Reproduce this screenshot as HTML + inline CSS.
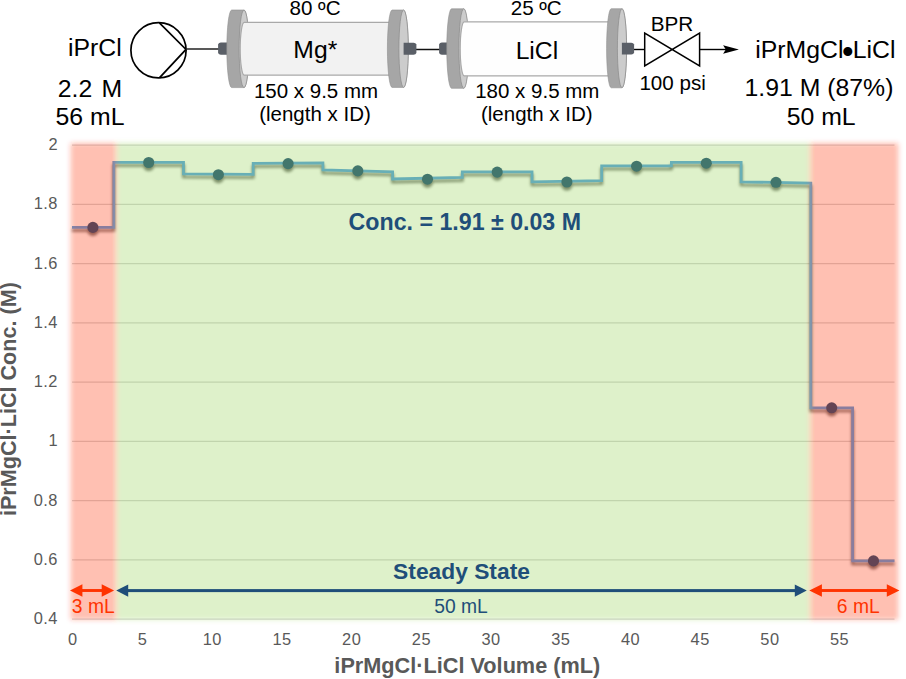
<!DOCTYPE html>
<html><head><meta charset="utf-8"><title>iPrMgCl·LiCl flow synthesis</title>
<style>
html,body{margin:0;padding:0;background:#fff;}
svg{display:block;font-family:"Liberation Sans",Arial,sans-serif;}
</style></head><body>
<svg width="906" height="679" viewBox="0 0 906 679">
<defs>
<filter id="soft" x="-20%" y="-5%" width="140%" height="110%"><feGaussianBlur stdDeviation="2.8"/></filter>
<filter id="sh" x="-5%" y="-5%" width="110%" height="110%"><feGaussianBlur stdDeviation="1.8"/></filter>
</defs>
<rect width="906" height="679" fill="#fff"/>

<!-- ===== chart ===== -->
<g stroke="#d6d6d6" stroke-width="1.25"><line x1="72" x2="894.5" y1="145.00" y2="145.00"/><line x1="72" x2="894.5" y1="204.25" y2="204.25"/><line x1="72" x2="894.5" y1="263.50" y2="263.50"/><line x1="72" x2="894.5" y1="322.75" y2="322.75"/><line x1="72" x2="894.5" y1="382.00" y2="382.00"/><line x1="72" x2="894.5" y1="441.25" y2="441.25"/><line x1="72" x2="894.5" y1="500.50" y2="500.50"/><line x1="72" x2="894.5" y1="559.75" y2="559.75"/><line x1="72" x2="894.5" y1="619.00" y2="619.00"/></g>
<g font-size="16.4" letter-spacing="0.5" fill="#595959"><text x="58" y="150.0" text-anchor="end">2</text><text x="58" y="209.2" text-anchor="end">1.8</text><text x="58" y="268.5" text-anchor="end">1.6</text><text x="58" y="327.8" text-anchor="end">1.4</text><text x="58" y="387.0" text-anchor="end">1.2</text><text x="58" y="446.2" text-anchor="end">1</text><text x="58" y="505.5" text-anchor="end">0.8</text><text x="58" y="564.8" text-anchor="end">0.6</text><text x="58" y="624.0" text-anchor="end">0.4</text><text x="72.9" y="645" text-anchor="middle">0</text><text x="142.6" y="645" text-anchor="middle">5</text><text x="212.3" y="645" text-anchor="middle">10</text><text x="282.0" y="645" text-anchor="middle">15</text><text x="351.7" y="645" text-anchor="middle">20</text><text x="421.4" y="645" text-anchor="middle">25</text><text x="491.1" y="645" text-anchor="middle">30</text><text x="560.8" y="645" text-anchor="middle">35</text><text x="630.5" y="645" text-anchor="middle">40</text><text x="700.2" y="645" text-anchor="middle">45</text><text x="769.9" y="645" text-anchor="middle">50</text><text x="839.6" y="645" text-anchor="middle">55</text></g>
<!-- shadow -->
<g opacity="0.55" filter="url(#sh)" transform="translate(0,3)">
<path d="M72.0 227.4 L113.8 227.4 L113.8 162.4 L183.5 162.4 L183.5 173.8 L253.2 174.4 L253.2 163.3 L322.9 162.9 L322.9 170.0 L392.6 171.8 L392.6 179.0 L462.3 177.3 L462.3 171.9 L532.0 171.8 L532.0 181.8 L601.7 180.7 L601.7 165.9 L671.4 165.9 L671.4 162.4 L741.1 162.4 L741.1 181.8 L810.8 183.2 L810.8 407.8 L852.6 407.8 L852.6 560.9 L894.5 560.9" fill="none" stroke="#000" stroke-width="2.8" stroke-linejoin="miter"/>
<g fill="#000"><circle cx="92.9" cy="227.4" r="5.55"/><circle cx="148.7" cy="162.5" r="5.55"/><circle cx="218.4" cy="174.7" r="5.55"/><circle cx="288.1" cy="163.6" r="5.55"/><circle cx="357.8" cy="170.9" r="5.55"/><circle cx="427.5" cy="179.2" r="5.55"/><circle cx="497.2" cy="172.1" r="5.55"/><circle cx="566.9" cy="182.0" r="5.55"/><circle cx="636.6" cy="166.2" r="5.55"/><circle cx="706.3" cy="163.2" r="5.55"/><circle cx="776.0" cy="182.3" r="5.55"/><circle cx="831.7" cy="407.8" r="5.55"/><circle cx="873.5" cy="560.9" r="5.55"/></g>
</g>
<path d="M72.0 227.4 L113.8 227.4 L113.8 162.4 L183.5 162.4 L183.5 173.8 L253.2 174.4 L253.2 163.3 L322.9 162.9 L322.9 170.0 L392.6 171.8 L392.6 179.0 L462.3 177.3 L462.3 171.9 L532.0 171.8 L532.0 181.8 L601.7 180.7 L601.7 165.9 L671.4 165.9 L671.4 162.4 L741.1 162.4 L741.1 181.8 L810.8 183.2 L810.8 407.8 L852.6 407.8 L852.6 560.9 L894.5 560.9" fill="none" stroke="#56a0e2" stroke-width="2.8" stroke-linejoin="miter"/>
<g fill="#1f4e79"><circle cx="92.9" cy="227.4" r="5.55"/><circle cx="148.7" cy="162.5" r="5.55"/><circle cx="218.4" cy="174.7" r="5.55"/><circle cx="288.1" cy="163.6" r="5.55"/><circle cx="357.8" cy="170.9" r="5.55"/><circle cx="427.5" cy="179.2" r="5.55"/><circle cx="497.2" cy="172.1" r="5.55"/><circle cx="566.9" cy="182.0" r="5.55"/><circle cx="636.6" cy="166.2" r="5.55"/><circle cx="706.3" cy="163.2" r="5.55"/><circle cx="776.0" cy="182.3" r="5.55"/><circle cx="831.7" cy="407.8" r="5.55"/><circle cx="873.5" cy="560.9" r="5.55"/></g>
<!-- zones -->
<g filter="url(#soft)">
<rect x="70.6" y="143" width="46.2" height="476.8" fill="#ff3210" fill-opacity="0.3"/>
<rect x="116.8" y="143" width="692.9" height="476.8" fill="#92d050" fill-opacity="0.3"/>
<rect x="809.7" y="143" width="88.6" height="476.8" fill="#ff3210" fill-opacity="0.3"/>
</g>
<!-- arrows -->
<g fill="#ff3300" stroke="none">
<rect x="78" y="589.05" width="28" height="2.9"/>
<path d="M70 590.5 l12.4 -6.2 v12.4 z M114.1 590.5 l-12.4 -6.2 v12.4 z"/>
<rect x="818" y="589.05" width="72" height="2.9"/>
<path d="M809.3 590.5 l12.6 -6.2 v12.4 z M899.4 590.5 l-12.6 -6.2 v12.4 z"/>
</g>
<g fill="#1f4e79">
<rect x="124" y="589.1" width="676" height="3"/>
<path d="M116.2 590.6 l12 -6.2 v12.4 z M806.8 590.6 l-12 -6.2 v12.4 z"/>
</g>
<g font-size="19.3" text-anchor="middle">
<text x="93.3" y="613.3" fill="#ff3300">3 mL</text>
<text x="858.3" y="613.3" fill="#ff3300">6 mL</text>
<text x="461" y="613.3" fill="#1f4e79">50 mL</text>
</g>
<text x="461.5" y="578.6" font-size="22.8" font-weight="bold" fill="#1f4e79" text-anchor="middle">Steady State</text>
<text x="464.8" y="229.5" font-size="23.2" font-weight="bold" fill="#1f4e79" text-anchor="middle">Conc. = 1.91 ± 0.03 M</text>
<text x="467.3" y="672.7" font-size="21.7" font-weight="bold" fill="#595959" text-anchor="middle">iPrMgCl·LiCl Volume (mL)</text>
<text transform="translate(16.2,399.1) rotate(-90)" font-size="21.6" font-weight="bold" fill="#595959" text-anchor="middle">iPrMgCl·LiCl Conc. (M)</text>

<!-- ===== schematic ===== -->
<g fill="none" stroke="#000" stroke-width="1.5">
<circle cx="158.5" cy="50.3" r="27.6" stroke-width="1.7"/>
<path d="M159.4 22.8 L186 49.4 L159.4 77.8" stroke-linejoin="miter" stroke-width="1.7"/>
<path d="M186 49 H220" stroke-width="1.5" stroke="#222"/>
<path d="M415 49.5 H440" stroke-width="1.5" stroke="#111"/>
<path d="M633 49.5 H644.5" stroke-width="1.4"/>
<path d="M644.7 33.1 V66 L699.6 33.1 V66 Z" stroke-linejoin="miter"/>
<path d="M699.6 49.5 H726" stroke-width="1.4"/>
</g>
<path d="M738.9 49.5 L723.1 45.3 L725.8 49.5 L723.1 53.7 Z" fill="#000"/>
<!-- column 1 -->
<path d="M220.9 42.5 h6.4 v12.2 h-6.4 q-2.2 0 -2.8 -1.8 v-8.6 q0.6 -1.8 2.8 -1.8z" fill="#5a5f67"/>
<path d="M231.7 10.0 H244.0 A4.9 38.8 0 0 1 244.0 87.6 H231.7 A4.9 38.8 0 0 1 231.7 10.0 Z" fill="#a6a6a6" stroke="#8e8e8e" stroke-width="0.6"/><ellipse cx="244.0" cy="48.8" rx="4.9" ry="38.8" fill="#cccccc" stroke="#8a8a8a" stroke-width="0.7"/>
<path d="M244.2 22.4 H391.0 V75.1 H244.2 A4.0 26.3 0 0 1 244.2 22.4 Z" fill="#f2f2f2" stroke="#a9a9a9" stroke-width="1.2" stroke-linejoin="round"/>
<path d="M392.1 10.0 H403.6 A4.7 38.7 0 0 1 403.6 87.4 H392.1 A4.7 38.7 0 0 1 392.1 10.0 Z" fill="#a6a6a6" stroke="#8e8e8e" stroke-width="0.6"/><ellipse cx="403.6" cy="48.7" rx="4.7" ry="38.7" fill="#cccccc" stroke="#8a8a8a" stroke-width="0.7"/>
<path d="M403.6 42.7 h10.0 q2.2 0 2.8 1.8 v8.5 q-0.6 1.8 -2.8 1.8 h-10.0 z" fill="#5a5f67"/>
<!-- column 2 -->
<path d="M441.9 42.5 h5.2 v12.2 h-5.2 q-2.2 0 -2.8 -1.8 v-8.6 q0.6 -1.8 2.8 -1.8z" fill="#5a5f67"/>
<path d="M451.4 8.8 H463.8 A4.9 39.8 0 0 1 463.8 88.3 H451.4 A4.9 39.8 0 0 1 451.4 8.8 Z" fill="#a6a6a6" stroke="#8e8e8e" stroke-width="0.6"/><ellipse cx="463.8" cy="48.5" rx="4.9" ry="39.8" fill="#cccccc" stroke="#8a8a8a" stroke-width="0.7"/>
<path d="M464.2 21.8 H610.0 V75.8 H464.2 A4.0 27.0 0 0 1 464.2 21.8 Z" fill="#fefefe" stroke="#a9a9a9" stroke-width="1.2" stroke-linejoin="round"/>
<path d="M611.2 8.7 H622.0 A4.6 39.5 0 0 1 622.0 87.8 H611.2 A4.6 39.5 0 0 1 611.2 8.7 Z" fill="#a6a6a6" stroke="#8e8e8e" stroke-width="0.6"/><ellipse cx="622.0" cy="48.2" rx="4.6" ry="39.5" fill="#cccccc" stroke="#8a8a8a" stroke-width="0.7"/>
<path d="M621.9 42.7 h9.4 q2.2 0 2.8 1.8 v8.2 q-0.6 1.8 -2.8 1.8 h-9.4 z" fill="#5a5f67"/>
<g fill="#000" text-anchor="middle">
<text x="94.8" y="56.4" font-size="24.8">iPrCl</text>
<text x="89.9" y="96.7" font-size="24.8" word-spacing="2.3">2.2 M</text>
<text x="90" y="125" font-size="24.8">56 mL</text>
<text x="315" y="15" font-size="20.6">80 <tspan dy="1.7">º</tspan><tspan dy="-1.7">C</tspan></text>
<text x="315.3" y="58" font-size="24.7">Mg*</text>
<text x="316" y="98.1" font-size="20.5">150 x 9.5 mm</text>
<text x="315" y="121" font-size="20.5">(length x ID)</text>
<text x="536.2" y="15.3" font-size="20.6">25 <tspan dy="1.7">º</tspan><tspan dy="-1.7">C</tspan></text>
<text x="536.9" y="58.6" font-size="24.7">LiCl</text>
<text x="537.3" y="98.1" font-size="20.5">180 x 9.5 mm</text>
<text x="536.8" y="121" font-size="20.5">(length x ID)</text>
<text x="672" y="30.7" font-size="20.7">BPR</text>
<text x="672.6" y="90.3" font-size="20.6">100 psi</text>
<text y="58.4" font-size="24.8" text-anchor="start"><tspan x="755.3">iPrMgCl</tspan><tspan x="842.1" y="62.5" font-size="33">•</tspan><tspan x="852.7" y="58.4">LiCl</tspan></text>
<text x="819" y="96.4" font-size="24.8">1.91 M (87%)</text>
<text x="821.2" y="125.2" font-size="24.8">50 mL</text>
</g>
</svg>
</body></html>
